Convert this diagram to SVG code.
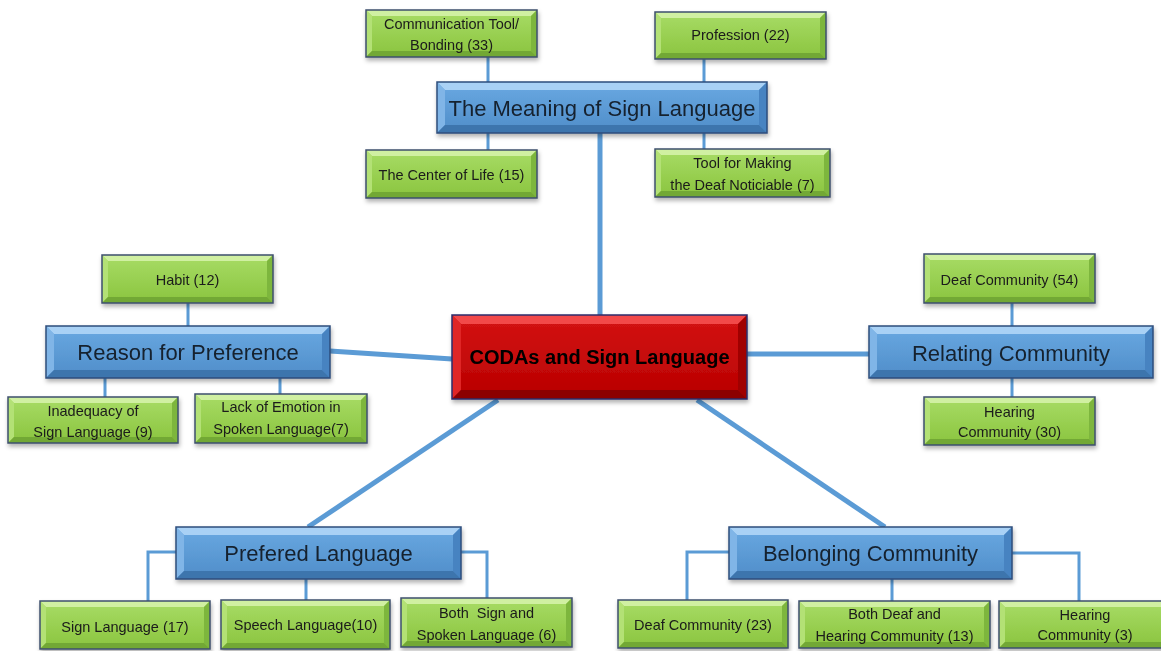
<svg xmlns="http://www.w3.org/2000/svg" width="1161" height="651" viewBox="0 0 1161 651">
<defs>
<linearGradient id="gg" x1="0" y1="0" x2="0" y2="1"><stop offset="0" stop-color="#a8dc66"/><stop offset="1" stop-color="#8ac43e"/></linearGradient>
<linearGradient id="bg" x1="0" y1="0" x2="0" y2="1"><stop offset="0" stop-color="#6aa9e2"/><stop offset="1" stop-color="#4f8dc9"/></linearGradient>
<linearGradient id="rg" x1="0" y1="0" x2="0" y2="1"><stop offset="0" stop-color="#d41414"/><stop offset="1" stop-color="#b80000"/></linearGradient>
<filter id="sh" x="-10%" y="-20%" width="120%" height="150%"><feDropShadow dx="1" dy="3" stdDeviation="2" flood-color="#000" flood-opacity="0.3"/></filter>
</defs>
<style>
.c{fill:none;stroke:#5b9bd5;stroke-width:3}
.m{fill:none;stroke:#5b9bd5;stroke-width:5}
.node{filter:url(#sh)}
.g .f{fill:url(#gg)} .g .t{fill:#d0f0a2} .g .l{fill:#b3e175} .g .r{fill:#7db63c} .g .b{fill:#72a835} .g .o{fill:none;stroke:#3e4f6e;stroke-width:1.5}
.bl .f{fill:url(#bg)} .bl .t{fill:#a9d1f5} .bl .l{fill:#80b5e7} .bl .r{fill:#4683c1} .bl .b{fill:#3d74ad} .bl .o{fill:none;stroke:#2e4d7c;stroke-width:1.5}
.rd .f{fill:url(#rg)} .rd .t{fill:#f24a4a} .rd .l{fill:#e02828} .rd .r{fill:#a00000} .rd .b{fill:#8c0000} .rd .o{fill:none;stroke:#2b2b6b;stroke-width:1.5}
text{font-family:"Liberation Sans",Arial,sans-serif;text-anchor:middle;fill:#1a1a1a}
.g text{font-size:14.5px}
.bl text{font-size:22px;fill:#15202e}
.rd text{font-size:20px;font-weight:bold;fill:#000}
</style>
<rect width="1161" height="651" fill="#fff"/>
<g id="connectors">
<path class="c" d="M488,57V82M488,133V150M704,59V82M704,133V149"/>
<path class="c" d="M188,303V326M105,378V397M280,378V394"/>
<path class="c" d="M1012,303V326M1012,378V397"/>
<path class="c" d="M176,552H148V601M306,579V600M461,552H487V598"/>
<path class="c" d="M729,552H687V600M892,579V601M1012,553H1079V601"/>
<path class="m" d="M600,133V315"/>
<path class="m" d="M330,351L452,359"/>
<path class="m" d="M747,354L869,354"/>
<path class="m" d="M498,400L308,527"/>
<path class="m" d="M697,400L885,527"/>
</g>

<g id="center" class="node rd" transform="translate(452,315)">
<rect class="f" width="295" height="84"/>
<polygon class="t" points="0,0 295,0 286,9 9,9"/><polygon class="l" points="0,0 9,9 9,75 0,84"/><polygon class="r" points="295,0 295,84 286,75 286,9"/><polygon class="b" points="0,84 295,84 286,75 9,75"/>
<rect class="o" width="295" height="84"/>
<text x="147.5" y="49">CODAs and Sign Language</text>
</g>

<g id="meaning" class="node bl" transform="translate(437,82)">
<rect class="f" width="330" height="51"/>
<polygon class="t" points="0,0 330,0 322,8 8,8"/><polygon class="l" points="0,0 8,8 8,43 0,51"/><polygon class="r" points="330,0 330,51 322,43 322,8"/><polygon class="b" points="0,51 330,51 322,43 8,43"/>
<rect class="o" width="330" height="51"/>
<text x="165" y="34">The Meaning of Sign Language</text>
</g>

<g id="reason" class="node bl" transform="translate(46,326)">
<rect class="f" width="284" height="52"/>
<polygon class="t" points="0,0 284,0 276,8 8,8"/><polygon class="l" points="0,0 8,8 8,44 0,52"/><polygon class="r" points="284,0 284,52 276,44 276,8"/><polygon class="b" points="0,52 284,52 276,44 8,44"/>
<rect class="o" width="284" height="52"/>
<text x="142" y="34">Reason for Preference</text>
</g>

<g id="relating" class="node bl" transform="translate(869,326)">
<rect class="f" width="284" height="52"/>
<polygon class="t" points="0,0 284,0 276,8 8,8"/><polygon class="l" points="0,0 8,8 8,44 0,52"/><polygon class="r" points="284,0 284,52 276,44 276,8"/><polygon class="b" points="0,52 284,52 276,44 8,44"/>
<rect class="o" width="284" height="52"/>
<text x="142" y="35">Relating Community</text>
</g>

<g id="prefered" class="node bl" transform="translate(176,527)">
<rect class="f" width="285" height="52"/>
<polygon class="t" points="0,0 285,0 277,8 8,8"/><polygon class="l" points="0,0 8,8 8,44 0,52"/><polygon class="r" points="285,0 285,52 277,44 277,8"/><polygon class="b" points="0,52 285,52 277,44 8,44"/>
<rect class="o" width="285" height="52"/>
<text x="142.5" y="34">Prefered Language</text>
</g>

<g id="belonging" class="node bl" transform="translate(729,527)">
<rect class="f" width="283" height="52"/>
<polygon class="t" points="0,0 283,0 275,8 8,8"/><polygon class="l" points="0,0 8,8 8,44 0,52"/><polygon class="r" points="283,0 283,52 275,44 275,8"/><polygon class="b" points="0,52 283,52 275,44 8,44"/>
<rect class="o" width="283" height="52"/>
<text x="141.5" y="34">Belonging Community</text>
</g>

<g id="communication" class="node g" transform="translate(366,10)">
<rect class="f" width="171" height="47"/>
<polygon class="t" points="0,0 171,0 165,6 6,6"/><polygon class="l" points="0,0 6,6 6,41 0,47"/><polygon class="r" points="171,0 171,47 165,41 165,6"/><polygon class="b" points="0,47 171,47 165,41 6,41"/>
<rect class="o" width="171" height="47"/>
<text x="85.5" y="18.5">Communication Tool/</text><text x="85.5" y="40">Bonding (33)</text>
</g>

<g id="profession" class="node g" transform="translate(655,12)">
<rect class="f" width="171" height="47"/>
<polygon class="t" points="0,0 171,0 165,6 6,6"/><polygon class="l" points="0,0 6,6 6,41 0,47"/><polygon class="r" points="171,0 171,47 165,41 165,6"/><polygon class="b" points="0,47 171,47 165,41 6,41"/>
<rect class="o" width="171" height="47"/>
<text x="85.5" y="28">Profession (22)</text>
</g>

<g id="centerlife" class="node g" transform="translate(366,150)">
<rect class="f" width="171" height="48"/>
<polygon class="t" points="0,0 171,0 165,6 6,6"/><polygon class="l" points="0,0 6,6 6,42 0,48"/><polygon class="r" points="171,0 171,48 165,42 165,6"/><polygon class="b" points="0,48 171,48 165,42 6,42"/>
<rect class="o" width="171" height="48"/>
<text x="85.5" y="30">The Center of Life (15)</text>
</g>

<g id="toolmaking" class="node g" transform="translate(655,149)">
<rect class="f" width="175" height="48"/>
<polygon class="t" points="0,0 175,0 169,6 6,6"/><polygon class="l" points="0,0 6,6 6,42 0,48"/><polygon class="r" points="175,0 175,48 169,42 169,6"/><polygon class="b" points="0,48 175,48 169,42 6,42"/>
<rect class="o" width="175" height="48"/>
<text x="87.5" y="19">Tool for Making</text><text x="87.5" y="41">the Deaf Noticiable (7)</text>
</g>

<g id="habit" class="node g" transform="translate(102,255)">
<rect class="f" width="171" height="48"/>
<polygon class="t" points="0,0 171,0 165,6 6,6"/><polygon class="l" points="0,0 6,6 6,42 0,48"/><polygon class="r" points="171,0 171,48 165,42 165,6"/><polygon class="b" points="0,48 171,48 165,42 6,42"/>
<rect class="o" width="171" height="48"/>
<text x="85.5" y="30">Habit (12)</text>
</g>

<g id="inadequacy" class="node g" transform="translate(8,397)">
<rect class="f" width="170" height="46"/>
<polygon class="t" points="0,0 170,0 164,6 6,6"/><polygon class="l" points="0,0 6,6 6,40 0,46"/><polygon class="r" points="170,0 170,46 164,40 164,6"/><polygon class="b" points="0,46 170,46 164,40 6,40"/>
<rect class="o" width="170" height="46"/>
<text x="85" y="18.5">Inadequacy of</text><text x="85" y="39.5">Sign Language (9)</text>
</g>

<g id="lackemotion" class="node g" transform="translate(195,394)">
<rect class="f" width="172" height="49"/>
<polygon class="t" points="0,0 172,0 166,6 6,6"/><polygon class="l" points="0,0 6,6 6,43 0,49"/><polygon class="r" points="172,0 172,49 166,43 166,6"/><polygon class="b" points="0,49 172,49 166,43 6,43"/>
<rect class="o" width="172" height="49"/>
<text x="86" y="18">Lack of Emotion in</text><text x="86" y="40">Spoken Language(7)</text>
</g>

<g id="deaf54" class="node g" transform="translate(924,254)">
<rect class="f" width="171" height="49"/>
<polygon class="t" points="0,0 171,0 165,6 6,6"/><polygon class="l" points="0,0 6,6 6,43 0,49"/><polygon class="r" points="171,0 171,49 165,43 165,6"/><polygon class="b" points="0,49 171,49 165,43 6,43"/>
<rect class="o" width="171" height="49"/>
<text x="85.5" y="31">Deaf Community (54)</text>
</g>

<g id="hearing30" class="node g" transform="translate(924,397)">
<rect class="f" width="171" height="48"/>
<polygon class="t" points="0,0 171,0 165,6 6,6"/><polygon class="l" points="0,0 6,6 6,42 0,48"/><polygon class="r" points="171,0 171,48 165,42 165,6"/><polygon class="b" points="0,48 171,48 165,42 6,42"/>
<rect class="o" width="171" height="48"/>
<text x="85.5" y="19.5">Hearing</text><text x="85.5" y="39.5">Community (30)</text>
</g>

<g id="signlang17" class="node g" transform="translate(40,601)">
<rect class="f" width="170" height="48"/>
<polygon class="t" points="0,0 170,0 164,6 6,6"/><polygon class="l" points="0,0 6,6 6,42 0,48"/><polygon class="r" points="170,0 170,48 164,42 164,6"/><polygon class="b" points="0,48 170,48 164,42 6,42"/>
<rect class="o" width="170" height="48"/>
<text x="85" y="30.5">Sign Language (17)</text>
</g>

<g id="speech10" class="node g" transform="translate(221,600)">
<rect class="f" width="169" height="49"/>
<polygon class="t" points="0,0 169,0 163,6 6,6"/><polygon class="l" points="0,0 6,6 6,43 0,49"/><polygon class="r" points="169,0 169,49 163,43 163,6"/><polygon class="b" points="0,49 169,49 163,43 6,43"/>
<rect class="o" width="169" height="49"/>
<text x="84.5" y="30">Speech Language(10)</text>
</g>

<g id="bothsign6" class="node g" transform="translate(401,598)">
<rect class="f" width="171" height="49"/>
<polygon class="t" points="0,0 171,0 165,6 6,6"/><polygon class="l" points="0,0 6,6 6,43 0,49"/><polygon class="r" points="171,0 171,49 165,43 165,6"/><polygon class="b" points="0,49 171,49 165,43 6,43"/>
<rect class="o" width="171" height="49"/>
<text x="85.5" y="20" style="white-space:pre">Both  Sign and</text><text x="85.5" y="42">Spoken Language (6)</text>
</g>

<g id="deaf23" class="node g" transform="translate(618,600)">
<rect class="f" width="170" height="48"/>
<polygon class="t" points="0,0 170,0 164,6 6,6"/><polygon class="l" points="0,0 6,6 6,42 0,48"/><polygon class="r" points="170,0 170,48 164,42 164,6"/><polygon class="b" points="0,48 170,48 164,42 6,42"/>
<rect class="o" width="170" height="48"/>
<text x="85" y="30">Deaf Community (23)</text>
</g>

<g id="bothdeaf13" class="node g" transform="translate(799,601)">
<rect class="f" width="191" height="47"/>
<polygon class="t" points="0,0 191,0 185,6 6,6"/><polygon class="l" points="0,0 6,6 6,41 0,47"/><polygon class="r" points="191,0 191,47 185,41 185,6"/><polygon class="b" points="0,47 191,47 185,41 6,41"/>
<rect class="o" width="191" height="47"/>
<text x="95.5" y="18">Both Deaf and</text><text x="95.5" y="39.5">Hearing Community (13)</text>
</g>

<g id="hearing3" class="node g" transform="translate(999,601)">
<rect class="f" width="172" height="47"/>
<polygon class="t" points="0,0 172,0 166,6 6,6"/><polygon class="l" points="0,0 6,6 6,41 0,47"/><polygon class="r" points="172,0 172,47 166,41 166,6"/><polygon class="b" points="0,47 172,47 166,41 6,41"/>
<rect class="o" width="172" height="47"/>
<text x="86" y="19">Hearing</text><text x="86" y="39">Community (3)</text>
</g>
</svg>
